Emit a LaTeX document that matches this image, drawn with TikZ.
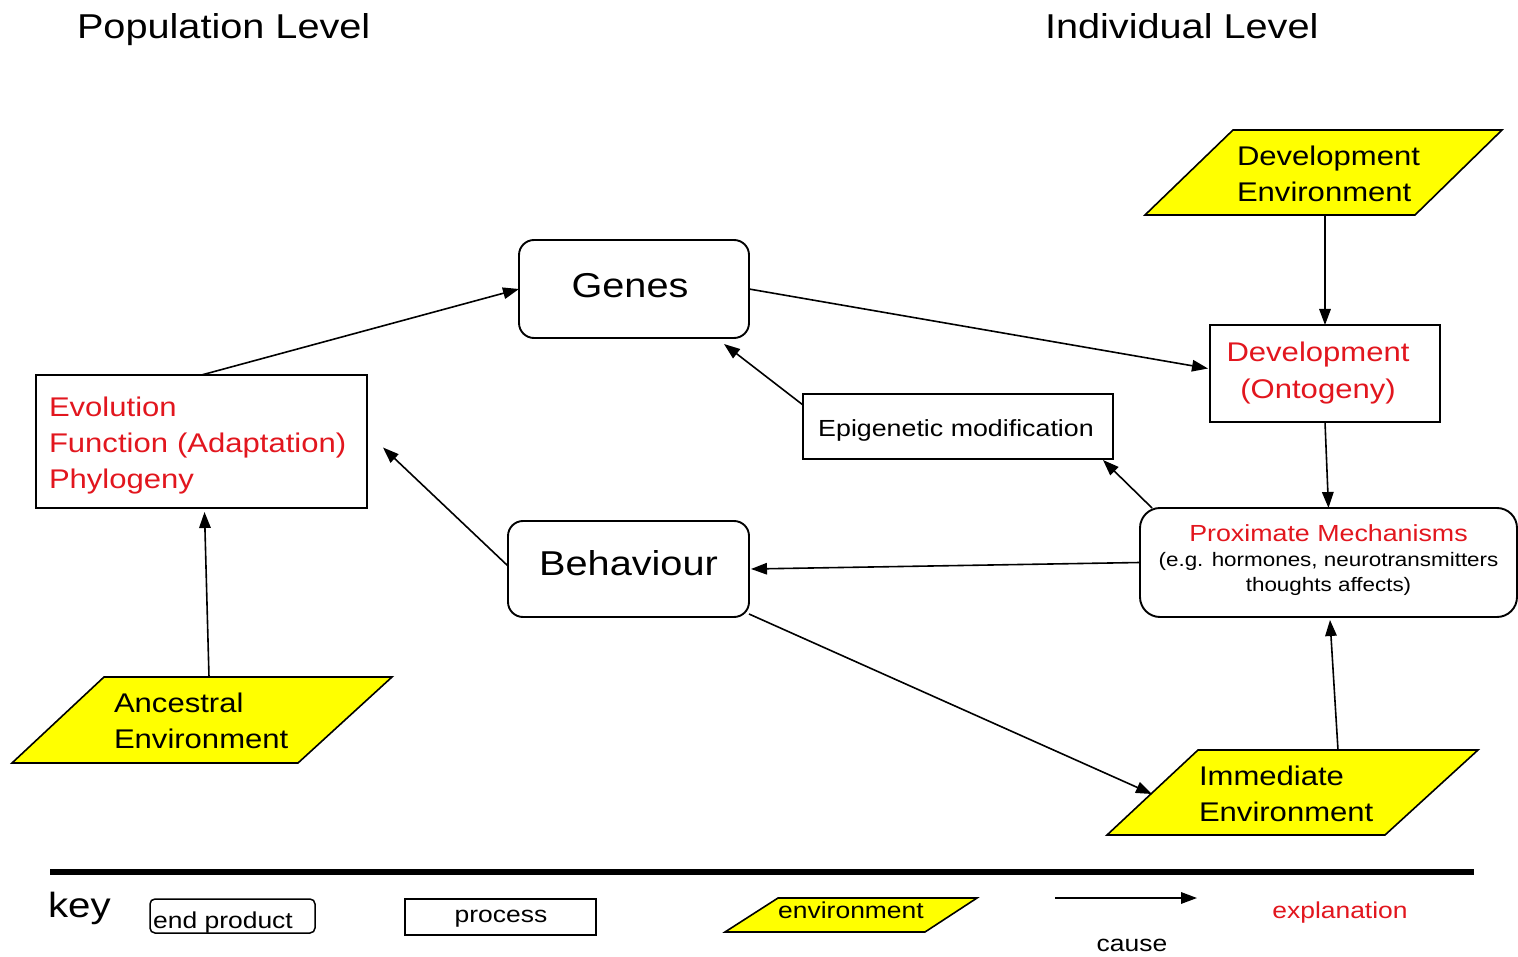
\documentclass[tikz,border=0pt]{standalone}
\usepackage{fontspec}
\setmainfont{Liberation Sans}[FakeStretch=1.15]
\usetikzlibrary{arrows.meta,calc}
\definecolor{expred}{RGB}{226,22,30}
\definecolor{envyel}{RGB}{255,255,0}
\newcommand{\myfs}[2]{\fontsize{#1}{#2}\selectfont}
\newcommand{\shiftup}[2]{\raisebox{#1}[\height][\depth]{#2}}
\begin{document}
\begin{tikzpicture}[x=1pt,y=-1pt,
  every node/.style={inner sep=0pt, outer sep=0pt},
  rbox/.style={draw, line width=1.9pt, rounded corners=15pt, fill=white},
  sbox/.style={draw, line width=1.9pt, fill=white},
  envshape/.style={draw, line width=1.6pt, fill=envyel, line join=miter},
  arr/.style={line width=1.6pt, -{Triangle[length=16pt,width=11.5pt]}},
  bigtxt/.style={font=\myfs{34.5}{40}},
  midtxt/.style={font=\myfs{27}{36}},
  smalltxt/.style={font=\myfs{23.3}{28}},
  keytxt/.style={font=\myfs{23}{28}}]
\useasboundingbox (0,0) rectangle (1518,957);
\fill[white] (0,0) rectangle (1518,957);

% headers
\node[bigtxt, anchor=base west] (pop) at (77,39) {Population Level};
\node[bigtxt, anchor=base west] (ind) at (1045,39) {Individual Level};

% environments (parallelograms)
\draw[envshape] (1233,130) -- (1502,130) -- (1415,215) -- (1145,215) -- cycle;
\node[midtxt, anchor=west, align=left] (devenv) at (1237,174) {Development\\Environment};
\coordinate (devenvb) at (1325,215);

\draw[envshape] (104,677) -- (392,677) -- (298,763) -- (12,763) -- cycle;
\node[midtxt, anchor=west, align=left] (ancenv) at (114,721) {Ancestral\\Environment};
\coordinate (ancenvt) at (209,677);

\draw[envshape] (1198,750) -- (1478,750) -- (1385,835) -- (1107,835) -- cycle;
\node[midtxt, anchor=west, align=left] (immenv) at (1199,794) {Immediate\\Environment};
\coordinate (immenvt) at (1338,750);
\coordinate (immenvl) at (1152,794);

% main boxes
\node[rbox, minimum width=230pt, minimum height=98pt, bigtxt] (genes) at (634,289)
      {\hspace*{-8pt}\shiftup{3pt}{Genes}};
\node[rbox, minimum width=241pt, minimum height=96pt, bigtxt] (behav) at (628.5,569)
      {\shiftup{6pt}{Behaviour}};
\node[sbox, minimum width=331pt, minimum height=133pt, text width=305pt, align=left,
      text=expred, midtxt] (evo) at (201.5,441.5)
      {\rule{0pt}{28pt}Evolution\\Function (Adaptation)\\Phylogeny};
\node[sbox, minimum width=310pt, minimum height=65pt, smalltxt] (epi) at (958,426.5)
      {\hspace*{-4pt}\shiftup{-4pt}{Epigenetic modification}};
\node[sbox, minimum width=230pt, minimum height=97pt, align=center, text=expred,
      font=\myfs{27}{37}] (dev) at (1325,373.5) {Development\hspace*{14pt}\\(Ontogeny)\hspace*{14pt}};
\node[rbox, rounded corners=20pt, minimum width=377pt, minimum height=109pt, align=center,
      font=\myfs{19.5}{25}] (prox) at (1328.5,562.5)
      {{\color{expred}\myfs{23.3}{28}Proximate Mechanisms}\\[0pt]
       (e.g. hormones, neurotransmitters\\thoughts affects)\rule[-9pt]{0pt}{9pt}};

% connectors
\draw[arr] (evo.north) -- (genes.west);
\draw[arr] (genes.east) -- ($(dev.west)+(-2,-5)$);
\draw[arr] ($(epi.north west)+(0,11)$) -- ($(genes.south east)+(-25,6)$);
\draw[arr] ($(prox.north west)+(12,0)$) -- ($(epi.south east)+(-10,1)$);
\draw[arr] (devenvb) -- (dev.north);
\draw[arr] (dev.south) -- (prox.north);
\draw[arr] (prox.west) -- ($(behav.east)+(2,0)$);
\draw[arr] ($(behav.west)+(0,-3)$) -- ($(evo.east)+(16,6)$);
\draw[arr] (ancenvt) -- ($(evo.south)+(3,4)$);
\draw[arr] ($(behav.south east)+(0,-3)$) -- (immenvl);
\draw[arr] (immenvt) -- ($(prox.south)+(1.5,3)$);

% key
\coordinate (klineL) at (50,872);
\coordinate (klineR) at (1474,872);
\draw[line width=6pt] (klineL) -- (klineR);
\node[font=\myfs{35}{40}, anchor=base west] (key) at (48,917) {key};
\node[draw, line width=1.5pt, rounded corners=5pt, minimum width=165pt, minimum height=34pt] (kend) at (232.5,916) {};
\node[keytxt, anchor=base] (kendt) at (223,928) {end product};
\node[draw, line width=1.5pt, minimum width=191pt, minimum height=36pt] (kproc) at (500.5,917) {};
\node[keytxt, anchor=base] (kproct) at (501,922) {process};
\draw[envshape] (778,898) -- (977,898) -- (925,932) -- (725,932) -- cycle;
\node[keytxt, anchor=base] (kenv) at (851,918) {environment};
\coordinate (kcauseA) at (1055,898);
\coordinate (kcauseB) at (1197,898);
\draw[arr] (kcauseA) -- (kcauseB);
\node[keytxt, anchor=base] (kcause) at (1132,951) {cause};
\node[keytxt, anchor=base, text=expred] (kexp) at (1340,918) {explanation};
\end{tikzpicture}
\end{document}
